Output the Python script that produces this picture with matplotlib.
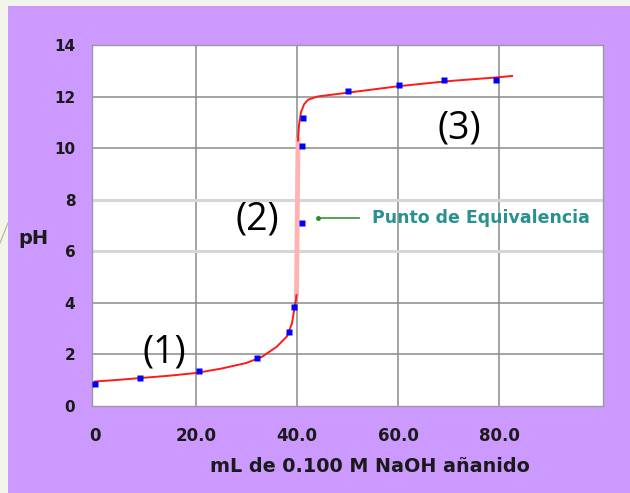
import matplotlib.pyplot as plt
from matplotlib.patches import Rectangle
from matplotlib.lines import Line2D

# puntos medidos (mL NaOH, pH)
vol_pts = [0, 8.9, 20.6, 32, 38.5, 39.5, 41, 41, 41.1, 50.1, 60.2, 69.1, 79.4]
ph_pts = [0.87, 1.09, 1.36, 1.86, 2.87, 3.84, 7.1, 10.1, 11.15, 12.2, 12.43, 12.65, 12.65]

# curva de titulacion
vol_curve = [0, 5, 10, 15, 20, 25, 30, 33, 36, 38, 39, 39.5, 39.9,
             40.2, 40.4, 40.8, 41.4, 42.2, 44, 50, 60, 70, 80, 82.6]
ph_curve = [0.95, 1.02, 1.1, 1.18, 1.28, 1.45, 1.67, 1.9, 2.3, 2.7, 3.2, 3.8, 4.3,
            10.3, 10.9, 11.4, 11.7, 11.88, 12.0, 12.15, 12.4, 12.6, 12.75, 12.8]
i_jump = 12  # indice donde empieza el salto vertical

xticks = [0, 20, 40, 60, 80]
xtick_labels = ["0", "20.0", "40.0", "60.0", "80.0"]
yticks = [0, 2, 4, 6, 8, 10, 12, 14]

purple = "#cc99ff"
font = "DejaVu Sans"

fig = plt.figure(figsize=(6.3, 4.93), dpi=100, facecolor="#f4f5ea")
fig.patches.append(Rectangle((8 / 630, 0), 1, 487 / 493, transform=fig.transFigure,
                             facecolor=purple, edgecolor="none", zorder=-2))
fig.lines.append(Line2D([0, 8 / 630], [1 - 243 / 493, 1 - 223 / 493], transform=fig.transFigure,
                        color="#b5b09a", lw=0.8, zorder=-1))

ax = fig.add_axes([92 / 630, 1 - 406 / 493, 511 / 630, 361 / 493])
ax.set_facecolor("white")
ax.set_xlim(-0.6, 100.6)
ax.set_ylim(0, 14)

for x in xticks[1:]:
    ax.axvline(x, color="#8a8a8a", lw=1.1, zorder=1)
for y in yticks[1:-1]:
    if y in (6, 8):
        ax.axhline(y, color="#d6d6d6", lw=2.2, zorder=1)
    else:
        ax.axhline(y, color="#8a8a8a", lw=1.1, zorder=1)

# curva
ax.plot(vol_curve[:i_jump + 1], ph_curve[:i_jump + 1], color="#ff1a1a", lw=1.4, zorder=3)
ax.plot(vol_curve[i_jump:i_jump + 2], ph_curve[i_jump:i_jump + 2], color="#ffb3b3", lw=3.5, zorder=2)
ax.plot(vol_curve[i_jump + 1:], ph_curve[i_jump + 1:], color="#ff1a1a", lw=1.4, zorder=3)

ax.plot(vol_pts, ph_pts, "s", color="#0000ff", ms=4, mec="none", zorder=4)

for s in ax.spines.values():
    s.set_color("#9a9a9a")
    s.set_linewidth(1)

ax.set_xticks(xticks)
ax.set_xticklabels(xtick_labels)
ax.set_yticks(yticks)
ax.tick_params(length=0, labelcolor="#1a1a1a")
ax.tick_params(axis="x", pad=15, labelsize=12)
ax.tick_params(axis="y", pad=12, labelsize=11)
for t in ax.get_xticklabels() + ax.get_yticklabels():
    t.set_fontweight("bold")
    t.set_family(font)

fig.text(370 / 630, 1 - 466 / 493, "mL de 0.100 M NaOH añanido", ha="center", va="center",
         fontsize=13.8, fontweight="bold", family=font, color="#1a1a1a")
fig.text(33 / 630, 1 - 238 / 493, "pH", ha="center", va="center",
         fontsize=14, fontweight="bold", family=font, color="#1a1a1a")

# punto de equivalencia
ax.plot([44.2, 52.3], [7.3, 7.3], color="#4a9a4a", lw=1.3, zorder=3)
ax.plot([44.2], [7.3], "o", color="#2a8a2a", ms=2.5, zorder=3)
ax.text(54.8, 7.3, "Punto de Equivalencia", ha="left", va="center", fontsize=12.5,
        fontweight="bold", family=font, color="#2a9090")

for lab, xx, yy in [("(1)", 164, 352), ("(2)", 257, 220), ("(3)", 459, 128)]:
    fig.text(xx / 630, 1 - yy / 493, lab, ha="center", va="center", fontsize=27,
             family="Open Sans", color="black")

fig.savefig("out.png", dpi=100, facecolor=fig.get_facecolor())
